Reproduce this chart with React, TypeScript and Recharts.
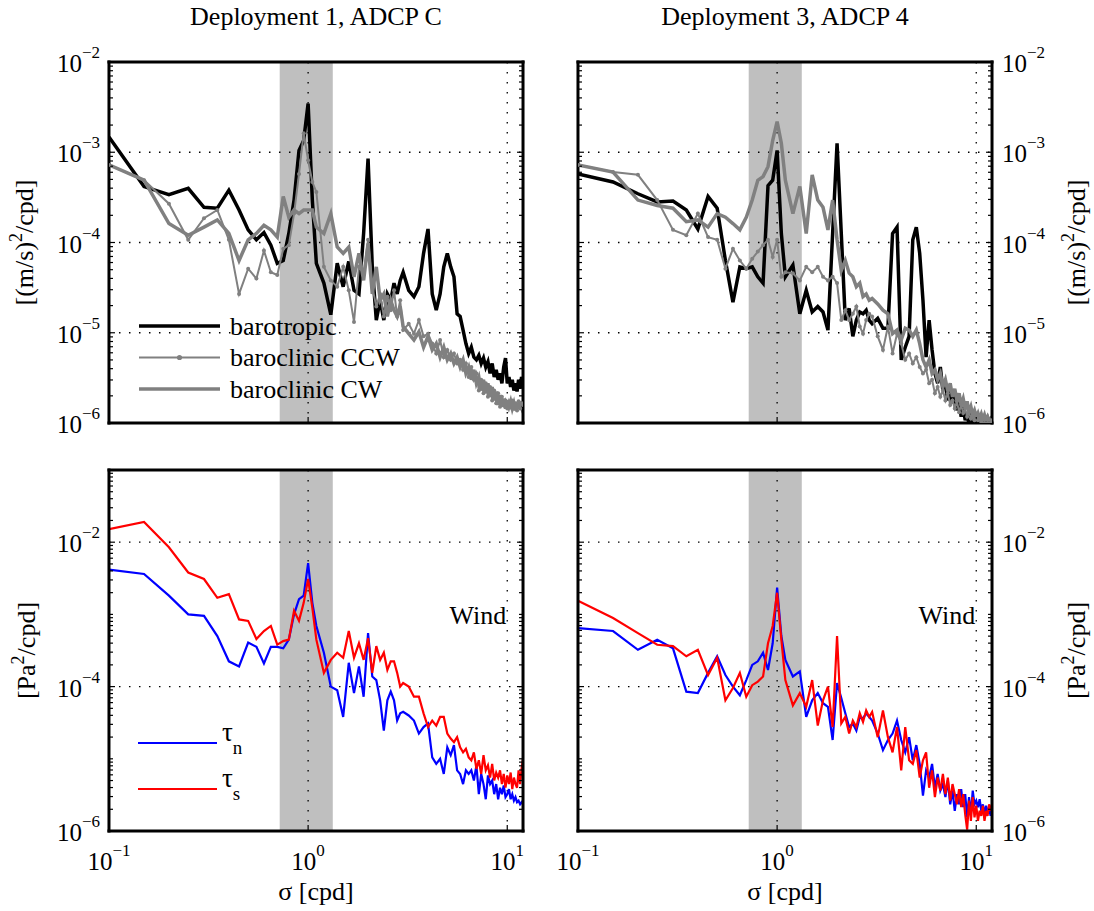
import React from 'react';
import { LineChart, Line, XAxis, YAxis, CartesianGrid, ReferenceArea, ReferenceDot, Legend } from 'recharts';

const FONT = '"Liberation Serif", "Times New Roman", Times, serif';
const W = 1094;
const H = 911;
const GRAY = '#808080';
const BAND = '#bfbfbf';

// frequency grid (cpd)
const FREQ = [
  0.1, 0.15, 0.2, 0.25, 0.3, 0.35, 0.4, 0.45, 0.5, 0.55, 0.6, 0.65, 0.7, 0.75, 0.8, 0.85, 0.9, 0.95, 1,
  1.05, 1.1, 1.2, 1.3, 1.4, 1.5, 1.6, 1.7, 1.8, 1.9, 2, 2.1, 2.2, 2.3, 2.4, 2.5, 2.6, 2.7, 2.8, 2.9, 3,
  3.2, 3.4, 3.6, 3.8, 4, 4.2, 4.4, 4.6, 4.8, 5, 5.2, 5.4, 5.6, 5.8, 6, 6.2, 6.4, 6.6, 6.8, 7,
  7.2, 7.4, 7.6, 7.8, 8, 8.2, 8.4, 8.6, 8.8, 9, 9.2, 9.4, 9.6, 9.8, 10, 10.2, 10.4, 10.6, 10.8, 11,
  11.2, 11.4, 11.6, 11.8, 12,
];

// log10 of the spectral levels
// Deployment 1, ADCP C  [(m/s)^2/cpd]
const D1_BARO = [
  -2.83, -3.38, -3.47, -3.40, -3.61, -3.62, -3.42, -3.64, -3.86, -3.97, -3.89, -4.03, -4.23, -4.20, -3.90, -3.53, -2.98, -2.87, -2.46,
  -3.53, -4.23, -4.45, -4.80, -4.23, -4.49, -4.21, -4.53, -4.57, -3.90, -3.07, -4.27, -4.86, -4.64, -4.86, -4.57, -4.64, -4.45, -4.57, -4.42, -4.33,
  -4.53, -4.60, -4.49, -4.12, -3.85, -4.57, -4.75, -4.57, -4.27, -4.12, -4.27, -4.38, -4.79, -4.82, -4.97,
  -5.12, -5.23, -5.16, -5.27, -5.30, -5.25, -5.34, -5.28, -5.38, -5.32, -5.45, -5.34, -5.49, -5.41, -5.52,
  -5.45, -5.56, -5.38, -5.28, -5.56, -5.49, -5.60, -5.52, -5.64, -5.56, -5.65, -5.52, -5.62, -5.49, -5.54,
];
const D1_CCW = [
  -3.14, -3.31, -3.57, -3.97, -3.73, -3.64, -3.97, -4.57, -4.29, -4.40, -4.09, -4.33, -4.36, -4.07, -4.03, -3.68, -3.24, -2.79, -3.09,
  -3.33, -3.44, -4.27, -4.42, -4.49, -4.27, -4.53, -4.88, -4.27, -4.34, -3.97, -4.49, -4.71, -4.57, -4.82, -4.60, -4.75, -4.53, -4.82, -4.64, -4.97,
  -4.90, -5.01, -4.86, -5.04, -5.01, -5.12, -5.23, -5.08, -5.27, -5.19, -5.30, -5.23, -5.34, -5.30, -5.41,
  -5.34, -5.49, -5.38, -5.52, -5.45, -5.64, -5.52, -5.67, -5.56, -5.71, -5.60, -5.75, -5.64, -5.78, -5.67,
  -5.82, -5.71, -5.80, -5.75, -5.84, -5.76, -5.82, -5.75, -5.84, -5.78, -5.86, -5.76, -5.84, -5.78, -5.80,
];
const D1_CW = [
  -3.14, -3.31, -3.79, -3.92, -3.83, -3.75, -3.90, -4.20, -3.97, -3.90, -3.81, -3.86, -3.94, -3.49, -3.72, -3.64, -3.68, -3.64, -3.64,
  -3.64, -3.83, -3.90, -3.68, -4.05, -4.12, -4.05, -4.38, -4.12, -4.42, -4.01, -4.57, -4.27, -4.64, -4.57, -4.82, -4.64, -4.75, -4.82, -4.71, -4.93,
  -5.01, -5.08, -4.99, -5.16, -5.04, -5.19, -5.12, -5.27, -5.16, -5.30, -5.23, -5.34, -5.27, -5.38, -5.30,
  -5.45, -5.38, -5.52, -5.41, -5.56, -5.49, -5.64, -5.52, -5.67, -5.56, -5.71, -5.60, -5.75, -5.65, -5.80,
  -5.69, -5.82, -5.73, -5.84, -5.75, -5.82, -5.76, -5.84, -5.78, -5.86, -5.78, -5.84, -5.76, -5.82, -5.76,
];

// Deployment 3, ADCP 4  [(m/s)^2/cpd]
const D3_BARO = [
  -3.24, -3.33, -3.46, -3.55, -3.54, -3.64, -3.85, -3.49, -3.62, -4.20, -4.66, -4.27, -4.29, -4.27, -4.38, -4.45, -3.37, -3.31, -2.98,
  -3.90, -4.38, -4.25, -4.79, -4.53, -4.77, -4.71, -4.77, -4.97, -3.90, -2.90, -3.90, -4.86, -4.73, -5.04, -4.86, -4.77, -4.79, -4.75, -4.86, -4.90,
  -4.84, -4.95, -4.95, -3.90, -3.83, -5.30, -5.16, -5.04, -3.97, -3.83, -4.12, -4.64, -5.27, -4.86, -5.19,
  -5.45, -5.56, -5.38, -5.64, -5.56, -5.75, -5.64, -5.78, -5.67, -5.86, -5.75, -5.93, -5.82, -5.97, -5.89,
  -6.02, -5.89, -6.04, -5.93, -6.00, -5.95, -6.06, -5.97, -6.04, -5.93, -6.02, -5.97, -6.06, -5.99, -6.04,
];
const D3_CCW = [
  -3.14, -3.22, -3.25, -3.53, -3.86, -3.92, -3.68, -3.94, -3.97, -4.29, -4.07, -4.20, -4.29, -4.18, -4.10, -4.03, -3.97, -4.16, -3.97,
  -4.38, -4.33, -4.34, -4.42, -4.27, -4.33, -4.27, -4.38, -4.42, -4.38, -4.45, -4.86, -4.75, -4.86, -4.79, -4.71, -4.93, -5.01, -4.86, -4.79, -4.82,
  -5.04, -5.19, -4.93, -5.23, -5.01, -5.12, -5.30, -5.23, -5.34, -5.27, -5.38, -5.45, -5.41, -5.56, -5.52,
  -5.67, -5.60, -5.71, -5.64, -5.75, -5.67, -5.80, -5.75, -5.84, -5.76, -5.88, -5.80, -5.89, -5.84, -5.93,
  -5.88, -5.95, -5.89, -5.97, -5.91, -5.97, -5.93, -5.99, -5.94, -6.00, -5.95, -6.00, -5.96, -6.00, -5.97,
];
const D3_CW = [
  -3.14, -3.22, -3.53, -3.59, -3.62, -3.77, -3.75, -3.83, -3.68, -3.72, -3.79, -3.86, -3.72, -3.53, -3.31, -3.27, -3.16, -2.87, -2.66,
  -2.90, -3.31, -3.68, -3.38, -3.90, -3.25, -3.53, -3.61, -3.86, -3.53, -3.97, -4.31, -4.20, -4.34, -4.38, -4.49, -4.45, -4.60, -4.57, -4.64, -4.62,
  -4.68, -4.75, -4.79, -5.01, -4.97, -5.08, -4.95, -4.97, -5.04, -4.97, -5.12, -5.30, -5.38, -5.30, -5.45,
  -5.41, -5.52, -5.45, -5.60, -5.52, -5.65, -5.56, -5.71, -5.62, -5.75, -5.67, -5.80, -5.73, -5.84, -5.76,
  -5.88, -5.82, -5.91, -5.86, -5.93, -5.89, -5.95, -5.90, -5.96, -5.91, -5.97, -5.93, -5.97, -5.95, -5.97,
];

// wind stress spectra [Pa^2/cpd]
const D1_TAUN = [
  -2.38, -2.44, -2.74, -3.00, -3.02, -3.30, -3.65, -3.72, -3.39, -3.45, -3.68, -3.45, -3.45, -3.47, -3.35, -3.00, -2.79, -2.74, -2.29,
  -2.84, -3.16, -3.53, -4.00, -4.05, -4.42, -3.67, -4.09, -3.72, -4.14, -3.26, -3.86, -3.91, -4.19, -4.61, -4.19, -4.07, -4.19, -4.47, -4.37, -4.35,
  -4.40, -4.47, -4.65, -4.56, -4.51, -4.98, -5.07, -5.00, -5.21, -4.84, -4.95, -4.81, -5.16, -5.21, -5.35,
  -5.16, -5.21, -5.16, -5.30, -5.09, -5.49, -5.21, -5.35, -5.56, -5.23, -5.35, -5.30, -5.49, -5.35, -5.56,
  -5.40, -5.49, -5.37, -5.53, -5.49, -5.42, -5.56, -5.49, -5.58, -5.53, -5.60, -5.58, -5.63, -5.60, -5.63,
];
const D1_TAUS = [
  -1.82, -1.72, -2.07, -2.42, -2.51, -2.77, -2.72, -3.07, -3.09, -3.34, -3.23, -3.16, -3.42, -3.37, -3.35, -2.95, -3.09, -2.84, -2.51,
  -2.91, -3.35, -3.81, -3.63, -3.53, -3.60, -3.23, -3.60, -3.40, -3.63, -3.33, -3.81, -3.44, -3.63, -3.53, -3.77, -3.65, -3.65, -3.81, -4.00, -3.95,
  -4.00, -4.14, -4.14, -4.37, -4.56, -4.47, -4.54, -4.42, -4.42, -4.65, -4.72, -4.77, -4.70, -4.84, -4.91,
  -4.86, -4.98, -5.02, -4.91, -5.14, -5.02, -5.21, -4.95, -5.16, -5.09, -5.26, -5.07, -5.30, -5.19, -5.26,
  -5.16, -5.35, -5.21, -5.40, -5.23, -5.35, -5.19, -5.42, -5.26, -5.35, -5.40, -5.16, -5.35, -5.14, -5.00,
];
const D3_TAUN = [
  -3.19, -3.23, -3.49, -3.35, -3.47, -4.07, -4.09, -3.81, -3.58, -3.84, -4.00, -4.12, -3.91, -3.70, -3.65, -3.53, -3.77, -3.40, -2.63,
  -3.30, -3.63, -3.86, -3.79, -4.42, -4.19, -4.09, -4.23, -4.28, -4.74, -3.95, -4.16, -4.37, -4.56, -4.51, -4.61, -4.42, -4.44, -4.37, -4.42, -4.47,
  -4.65, -4.88, -4.74, -4.65, -4.47, -4.74, -4.91, -4.70, -5.02, -4.81, -5.07, -5.51, -5.16, -5.26, -5.07,
  -5.40, -5.21, -5.44, -5.35, -5.53, -5.30, -5.63, -5.44, -5.72, -5.49, -5.63, -5.42, -5.67, -5.49, -5.81,
  -5.53, -5.77, -5.44, -5.63, -5.58, -5.67, -5.56, -5.72, -5.63, -5.77, -5.65, -5.74, -5.67, -5.79, -5.70,
];
const D3_TAUS = [
  -2.81, -3.05, -3.26, -3.42, -3.44, -3.58, -3.49, -3.84, -3.60, -4.19, -4.02, -3.81, -4.14, -3.98, -3.93, -3.86, -3.40, -3.16, -2.70,
  -3.35, -3.91, -4.26, -4.09, -4.28, -3.91, -4.54, -4.19, -4.00, -4.56, -3.30, -4.51, -4.42, -4.65, -4.47, -4.56, -4.37, -4.49, -4.33, -4.42, -4.35,
  -4.70, -4.33, -4.70, -4.91, -4.56, -5.16, -4.56, -5.02, -5.07, -4.88, -5.26, -5.02, -4.91, -5.40, -5.16,
  -5.53, -5.26, -5.44, -5.21, -5.49, -5.26, -5.58, -5.35, -5.49, -5.63, -5.42, -5.67, -5.49, -5.77, -5.98,
  -5.58, -5.86, -5.53, -5.81, -5.65, -5.86, -5.72, -5.79, -5.65, -5.86, -5.72, -5.79, -5.63, -5.72, -5.63,
];

const TITLES = ['Deployment 1, ADCP C', 'Deployment 3, ADCP 4'];
const VEL_NAMES = ['barotropic', 'baroclinic CCW', 'baroclinic CW'];
const TAU_NAMES = ['τn', 'τs'];
const X_DOMAIN = [0.1, 12];
const X_MAJOR = [0.1, 1, 10];
const X_MINOR = [0.2, 0.3, 0.4, 0.5, 0.6, 0.7, 0.8, 0.9, 2, 3, 4, 5, 6, 7, 8, 9];
const VEL_DOMAIN = [1e-6, 1e-2];
const VEL_MAJOR = [1e-6, 1e-5, 1e-4, 1e-3, 1e-2];
const STRESS_DOMAIN = [1e-6, 1e-1];
const STRESS_MAJOR = [1e-6, 1e-4, 1e-2];
const BAND_X = [0.72, 1.33];
const WIND_AT = { x: 10, y: 1e-3 };

const minorDecades = (lo: number, hi: number, extra: number[] = []) => {
  const out: number[] = [...extra];
  for (let e = lo; e < hi; e++) for (let m = 2; m <= 9; m++) out.push(m * Math.pow(10, e));
  return out;
};
const VEL_MINOR = minorDecades(-6, -2);
const STRESS_MINOR = minorDecades(-6, -1, [1e-5, 1e-3]);

const table = (cols: Record<string, number[]>) =>
  FREQ.map((f, i) => {
    const row: Record<string, number> = { f };
    Object.keys(cols).forEach((k) => (row[k] = Math.pow(10, cols[k][i])));
    return row;
  });

const d1Vel = table({ baro: D1_BARO, ccw: D1_CCW, cw: D1_CW });
const d3Vel = table({ baro: D3_BARO, ccw: D3_CCW, cw: D3_CW });
const d1Wind = table({ tn: D1_TAUN, ts: D1_TAUS });
const d3Wind = table({ tn: D3_TAUN, ts: D3_TAUS });

const BOX_LINE = { stroke: '#000', strokeWidth: 3, strokeLinecap: 'square' as const };
const TICK_LINE = { stroke: '#000', strokeWidth: 1.2 };
const THIN = 0.01; // axes need a non-zero size to be drawn

function PowText({ x, y, value, anchor }: { x: number; y: number; value: number; anchor: 'start' | 'middle' | 'end' }) {
  const e = Math.round(Math.log10(value));
  return (
    <text x={x} y={y} textAnchor={anchor} fontFamily={FONT} fontSize={25} fill="#000">
      10
      <tspan dy={-14} fontSize={17}>
        {e < 0 ? `\u2212${-e}` : `${e}`}
      </tspan>
    </text>
  );
}

function SideLabel({ x, cy, base }: { x: number; cy: number; base: string }) {
  return (
    <text transform={`translate(${x},${cy}) rotate(-90)`} textAnchor="middle" fontFamily={FONT} fontSize={26} fill="#000">
      {base}
      <tspan dy={-11} fontSize={18}>2</tspan>
      <tspan dy={11}>/cpd]</tspan>
    </text>
  );
}

const LOOK: Record<string, { w: number; dot?: boolean }> = {
  barotropic: { w: 3.5 },
  'baroclinic CCW': { w: 2, dot: true },
  'baroclinic CW': { w: 3.5 },
  'τn': { w: 2.2 },
  'τs': { w: 2.2 },
};

const inOrder = (payload: any[], names: string[]) =>
  [...(payload || [])].sort((a, b) => names.indexOf(a.value) - names.indexOf(b.value));

function VelLegend({ payload }: any) {
  return (
    <svg width={260} height={100} style={{ display: 'block', overflow: 'visible' }}>
      {inOrder(payload, VEL_NAMES).map((e: any, i: number) => {
        const y = 21 + i * 31.5;
        const look = LOOK[e.value] || { w: 2 };
        return (
          <g key={e.value}>
            <line x1={9} x2={90} y1={y} y2={y} stroke={e.color} strokeWidth={look.w} />
            {look.dot ? <circle cx={49.5} cy={y} r={2.6} fill={e.color} /> : null}
            <text x={100} y={y + 8.5} fontFamily={FONT} fontSize={26} fill="#000">
              {e.value}
            </text>
          </g>
        );
      })}
    </svg>
  );
}

function TauLegend({ payload }: any) {
  return (
    <svg width={160} height={100} style={{ display: 'block', overflow: 'visible' }}>
      {inOrder(payload, TAU_NAMES).map((e: any, i: number) => {
        const y = 23 + i * 46;
        const look = LOOK[e.value] || { w: 2 };
        const name = String(e.value);
        return (
          <g key={name}>
            <line x1={8} x2={87} y1={y} y2={y} stroke={e.color} strokeWidth={look.w} />
            <text x={92} y={y - 2} fontFamily={FONT} fontSize={27} fill="#000">
              {name.slice(0, 1)}
              <tspan dy={13} fontSize={19}>{name.slice(1)}</tspan>
            </text>
          </g>
        );
      })}
    </svg>
  );
}

interface Spec {
  left: number;
  top: number;
  right: number;
  bottom: number;
  yDomain: number[];
  yMajor: number[];
  yMinor: number[];
  labelSide: 'left' | 'right';
  xLabels: boolean;
}

function Panel({ spec, data, children }: { spec: Spec; data: any[]; children: React.ReactNode }) {
  const margin = {
    top: spec.top - 2 * THIN,
    left: spec.left - 2 * THIN,
    right: W - spec.right - 2 * THIN,
    bottom: H - spec.bottom - 2 * THIN,
  };
  const none = () => <g />;
  const yTick = (side: 'left' | 'right') => (p: any) =>
    spec.labelSide === side ? (
      <PowText
        x={side === 'left' ? spec.left - 9 : spec.right + 10}
        y={p.payload.coordinate + 10}
        value={p.payload.value}
        anchor={side === 'left' ? 'end' : 'start'}
      />
    ) : (
      <g />
    );
  const xTick = (p: any) =>
    spec.xLabels ? <PowText x={p.payload.coordinate} y={spec.bottom + 39} value={p.payload.value} anchor="middle" /> : <g />;
  const xc = { type: 'number' as const, scale: 'log' as const, domain: X_DOMAIN, allowDataOverflow: true, mirror: true, height: THIN, interval: 0 };
  const yc = { type: 'number' as const, scale: 'log' as const, domain: spec.yDomain, allowDataOverflow: true, mirror: true, width: THIN, interval: 0 };
  return (
    <div style={{ position: 'absolute', left: 0, top: 0 }}>
      <LineChart width={W} height={H} data={data} margin={margin}>
        <ReferenceArea x1={BAND_X[0]} x2={BAND_X[1]} fill={BAND} fillOpacity={1} stroke="none" zIndex={-150} />
        <CartesianGrid stroke="#000" strokeDasharray="1.5 8.5" strokeWidth={1.3} />
        <XAxis xAxisId={0} dataKey="f" orientation="bottom" {...xc} ticks={X_MAJOR} tickSize={6} axisLine={BOX_LINE} tickLine={TICK_LINE} tick={xTick} />
        <XAxis xAxisId="bm" orientation="bottom" {...xc} ticks={X_MINOR} tickSize={4} axisLine={false} tickLine={TICK_LINE} tick={none} />
        <XAxis xAxisId="t" orientation="top" {...xc} ticks={X_MAJOR} tickSize={6} axisLine={BOX_LINE} tickLine={TICK_LINE} tick={none} />
        <XAxis xAxisId="tm" orientation="top" {...xc} ticks={X_MINOR} tickSize={4} axisLine={false} tickLine={TICK_LINE} tick={none} />
        <YAxis yAxisId={0} orientation="left" {...yc} ticks={spec.yMajor} tickSize={6} axisLine={BOX_LINE} tickLine={TICK_LINE} tick={yTick('left')} />
        <YAxis yAxisId="lm" orientation="left" {...yc} ticks={spec.yMinor} tickSize={4} axisLine={false} tickLine={TICK_LINE} tick={none} />
        <YAxis yAxisId="r" orientation="right" {...yc} ticks={spec.yMajor} tickSize={6} axisLine={BOX_LINE} tickLine={TICK_LINE} tick={yTick('right')} />
        <YAxis yAxisId="rm" orientation="right" {...yc} ticks={spec.yMinor} tickSize={4} axisLine={false} tickLine={TICK_LINE} tick={none} />
        {children}
      </LineChart>
    </div>
  );
}

const TL: Spec = { left: 109, top: 62, right: 523, bottom: 423, yDomain: VEL_DOMAIN, yMajor: VEL_MAJOR, yMinor: VEL_MINOR, labelSide: 'left', xLabels: false };
const TR: Spec = { ...TL, left: 578, right: 992, labelSide: 'right' };
const BL: Spec = { left: 109, top: 470, right: 523, bottom: 831, yDomain: STRESS_DOMAIN, yMajor: STRESS_MAJOR, yMinor: STRESS_MINOR, labelSide: 'left', xLabels: true };
const BR: Spec = { ...BL, left: 578, right: 992, labelSide: 'right' };

const velLines = () => [
  <Line key="baro" dataKey="baro" name={VEL_NAMES[0]} stroke="#000" strokeWidth={3.5} dot={false} activeDot={false} isAnimationActive={false} />,
  <Line key="ccw" dataKey="ccw" name={VEL_NAMES[1]} stroke={GRAY} strokeWidth={2} dot={{ r: 2, fill: GRAY, stroke: 'none' }} activeDot={false} isAnimationActive={false} />,
  <Line key="cw" dataKey="cw" name={VEL_NAMES[2]} stroke={GRAY} strokeWidth={3.5} dot={false} activeDot={false} isAnimationActive={false} />,
];
const windLines = () => [
  <Line key="tn" dataKey="tn" name={TAU_NAMES[0]} stroke="#0000ff" strokeWidth={2.2} dot={false} activeDot={false} isAnimationActive={false} />,
  <Line key="ts" dataKey="ts" name={TAU_NAMES[1]} stroke="#ff0000" strokeWidth={2.2} dot={false} activeDot={false} isAnimationActive={false} />,
];
const windTag = (
  <ReferenceDot
    x={WIND_AT.x}
    y={WIND_AT.y}
    r={0}
    fill="none"
    stroke="none"
    label={{ value: 'Wind', position: 'left', offset: 1, fill: '#000', fontSize: 26, fontFamily: FONT }}
  />
);

export default function App() {
  return (
    <div style={{ position: 'absolute', left: 0, top: 0, width: W, height: H, background: '#fff', fontFamily: FONT }}>
      <Panel spec={TL} data={d1Vel}>
        {velLines()}
        <Legend content={VelLegend} layout="horizontal" verticalAlign="middle" align="center" wrapperStyle={{ left: 130, top: 305, width: 260, height: 100 }} />
        <text x={(TL.left + TL.right) / 2} y={25} textAnchor="middle" fontFamily={FONT} fontSize={26} fill="#000">
          {TITLES[0]}
        </text>
        <SideLabel x={33} cy={(TL.top + TL.bottom) / 2} base="[(m/s)" />
      </Panel>
      <Panel spec={TR} data={d3Vel}>
        {velLines()}
        <text x={(TR.left + TR.right) / 2} y={25} textAnchor="middle" fontFamily={FONT} fontSize={26} fill="#000">
          {TITLES[1]}
        </text>
        <SideLabel x={1085} cy={(TR.top + TR.bottom) / 2} base="[(m/s)" />
      </Panel>
      <Panel spec={BL} data={d1Wind}>
        {windLines()}
        {windTag}
        <Legend content={TauLegend} layout="horizontal" verticalAlign="middle" align="center" wrapperStyle={{ left: 130, top: 720, width: 160, height: 100 }} />
        <SideLabel x={35} cy={(BL.top + BL.bottom) / 2} base="[Pa" />
        <text x={(BL.left + BL.right) / 2} y={900} textAnchor="middle" fontFamily={FONT} fontSize={26} fill="#000">
          σ [cpd]
        </text>
      </Panel>
      <Panel spec={BR} data={d3Wind}>
        {windLines()}
        {windTag}
        <SideLabel x={1085} cy={(BR.top + BR.bottom) / 2} base="[Pa" />
        <text x={(BR.left + BR.right) / 2} y={900} textAnchor="middle" fontFamily={FONT} fontSize={26} fill="#000">
          σ [cpd]
        </text>
      </Panel>
    </div>
  );
}
